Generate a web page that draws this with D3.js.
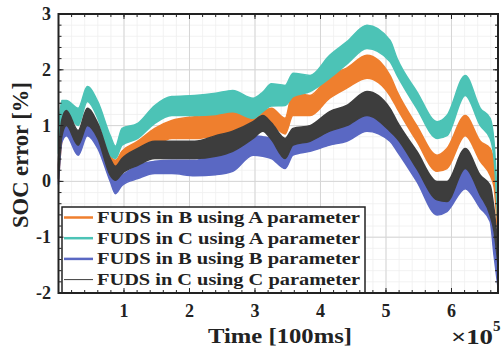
<!DOCTYPE html>
<meta charset="utf-8">
<style>
body { margin: 0; background: #fff; }
text { font-family: "Liberation Serif", "Times New Roman", serif; font-weight: bold; fill: #222; }
</style>
<svg width="503" height="348"></svg>
<script src="https://cdnjs.cloudflare.com/ajax/libs/d3/7.8.5/d3.min.js"></script>
<script>
// time axis, in units of 1e5 x 100ms
var time = [0, 0.05, 0.12, 0.30, 0.44, 0.60, 0.79, 0.87, 0.97, 1.21, 1.47, 1.73, 2.08, 2.40, 2.66, 2.97, 3.12, 3.25, 3.46, 3.58, 3.84, 4.14, 4.40, 4.71, 5.06, 5.17, 5.47, 5.78, 5.93, 6.21, 6.44, 6.59, 6.65, 6.71];

// upper / lower envelope of each oscillating SOC error trace [%]
var bAhi = [0.3, 1.0, 1.2, 0.85, 1.25, 1.0, 0.45, 0.38, 0.54, 0.72, 0.95, 1.09, 1.16, 1.2, 1.25, 1.13, 1.25, 1.31, 1.13, 1.61, 1.54, 1.9, 2.03, 2.26, 1.9, 1.61, 1.0, 0.47, 0.59, 1.18, 0.72, 0.59, 0.3, -0.8];
var bAlo = [0.0, 0.7, 0.9, 0.6, 0.95, 0.7, 0.15, 0.2, 0.29, 0.41, 0.63, 0.77, 0.77, 0.82, 0.9, 0.82, 0.95, 1.0, 0.85, 1.18, 1.18, 1.49, 1.67, 1.85, 1.54, 1.31, 0.72, 0.18, 0.23, 0.82, 0.36, 0.11, -0.1, -1.1];
var cAhi = [0.9, 1.45, 1.45, 1.31, 1.70, 1.43, 0.82, 0.63, 0.95, 1.04, 1.36, 1.52, 1.54, 1.58, 1.63, 1.49, 1.6, 1.75, 1.72, 1.94, 1.9, 2.26, 2.5, 2.8, 2.53, 2.2, 1.61, 1.07, 1.18, 1.9, 1.31, 1.13, 0.7, -0.55];
var cAlo = [0.5, 1.1, 1.22, 1.0, 1.43, 1.13, 0.47, 0.41, 0.65, 0.77, 1.04, 1.18, 1.18, 1.2, 1.25, 1.13, 1.25, 1.35, 1.36, 1.52, 1.61, 1.85, 2.1, 2.38, 2.15, 1.9, 1.31, 0.77, 0.82, 1.54, 1.0, 0.77, 0.4, -0.8];
var bBhi = [0.3, 1.0, 1.13, 0.77, 1.09, 0.82, 0.23, 0.05, 0.11, 0.29, 0.36, 0.38, 0.38, 0.48, 0.54, 0.82, 0.8, 0.77, 0.54, 0.82, 0.82, 1.0, 1.13, 1.31, 1.13, 0.82, 0.29, -0.25, -0.18, 0.23, -0.13, -0.25, -0.9, -1.6];
var bBlo = [-0.05, 0.7, 0.82, 0.47, 0.82, 0.59, 0.0, -0.22, -0.07, 0.05, 0.14, 0.14, 0.1, 0.12, 0.18, 0.47, 0.45, 0.41, 0.23, 0.47, 0.54, 0.65, 0.72, 0.9, 0.72, 0.54, 0.0, -0.6, -0.54, -0.13, -0.48, -0.72, -1.33, -1.9];
var cChi = [0.4, 1.1, 1.27, 0.91, 1.31, 1.04, 0.41, 0.27, 0.41, 0.59, 0.72, 0.72, 0.72, 0.82, 0.9, 1.07, 1.18, 1.05, 0.77, 0.95, 1.0, 1.25, 1.36, 1.61, 1.31, 1.07, 0.54, 0.0, 0.0, 0.59, 0.11, -0.07, -0.5, -1.2];
var cClo = [0.05, 0.8, 1.0, 0.65, 1.0, 0.77, 0.11, 0.02, 0.14, 0.29, 0.41, 0.41, 0.41, 0.45, 0.54, 0.77, 0.9, 0.75, 0.41, 0.65, 0.72, 0.9, 1.0, 1.18, 0.9, 0.77, 0.23, -0.33, -0.36, 0.23, -0.25, -0.61, -0.9, -1.5];

var names = ["FUDS in B using A parameter", "FUDS in C using A parameter", "FUDS in B using B parameter", "FUDS in C using C parameter"];
var colors = ["#ef7f2e", "#4cc3b6", "#5a68c3", "#3d3d3d"];
var his = [bAhi, cAhi, bBhi, cChi];
var los = [bAlo, cAlo, bBlo, cClo];

var xTicks = [1, 2, 3, 4, 5, 6];
var yTicks = [-2, -1, 0, 1, 2, 3];

var svg = d3.select("svg"),
    pL = 58.5, pR = 498, pT = 14, pB = 293;

var x = d3.scaleLinear().domain([0, 6.71]).range([pL, pR]);
var y = d3.scaleLinear().domain([-2, 3]).range([pB, pT]);

var xMinor = d3.range(1, 34).map(i => i * 0.2),
    yMinor = d3.range(1, 25).map(i => -2 + i * 0.2);

// minor + major grid
var g = svg.append("g");
g.selectAll(".gxm").data(xMinor).enter().append("line")
    .attr("x1", d => x(d)).attr("x2", d => x(d)).attr("y1", pT).attr("y2", pB)
    .attr("stroke", "#efefef").attr("stroke-width", 0.8);
g.selectAll(".gym").data(yMinor).enter().append("line")
    .attr("y1", d => y(d)).attr("y2", d => y(d)).attr("x1", pL).attr("x2", pR)
    .attr("stroke", "#efefef").attr("stroke-width", 0.8);
g.selectAll(".gx").data(xTicks).enter().append("line")
    .attr("x1", d => x(d)).attr("x2", d => x(d)).attr("y1", pT).attr("y2", pB)
    .attr("stroke", "#d6d6d6").attr("stroke-width", 1);
g.selectAll(".gy").data(yTicks).enter().append("line")
    .attr("y1", d => y(d)).attr("y2", d => y(d)).attr("x1", pL).attr("x2", pR)
    .attr("stroke", "#d6d6d6").attr("stroke-width", 1);

// the traces, drawn as filled bands between their envelopes
var plot = svg.append("g");
names.forEach(function(n, k) {
  var rows = time.map(function(t, i) { return {t: t, hi: his[k][i], lo: los[k][i]}; });
  var area = d3.area().curve(d3.curveMonotoneX)
      .x(d => x(d.t)).y0(d => y(d.lo)).y1(d => y(d.hi));
  plot.append("path").datum(rows)
      .attr("d", area)
      .attr("fill", colors[k])
      .attr("stroke", colors[k])
      .attr("stroke-width", 1.5)
      .attr("stroke-linejoin", "round");
});

// legend
var lg = svg.append("g");
lg.append("rect").attr("x", 62).attr("y", 207).attr("width", 303).attr("height", 86)
    .attr("fill", "#fff").attr("stroke", "#222").attr("stroke-width", 1.5);
names.forEach(function(n, k) {
  var ly = 217.5 + k * 20.7;
  lg.append("line").attr("x1", 64).attr("x2", 93).attr("y1", ly).attr("y2", ly)
      .attr("stroke", colors[k]).attr("stroke-width", k === 3 ? 1 : 2.5);
  lg.append("text").attr("x", 97).attr("y", ly + 5.5).attr("font-size", 16)
      .attr("textLength", 263).attr("lengthAdjust", "spacingAndGlyphs").text(n);
});

// frame with inward ticks on every side
var ax = svg.append("g");
function ticks(vals, len, vertical) {
  vals.forEach(function(v) {
    if (vertical) {
      ax.append("line").attr("x1", x(v)).attr("x2", x(v)).attr("y1", pB).attr("y2", pB - len);
      ax.append("line").attr("x1", x(v)).attr("x2", x(v)).attr("y1", pT).attr("y2", pT + len);
    } else {
      ax.append("line").attr("y1", y(v)).attr("y2", y(v)).attr("x1", pL).attr("x2", pL + len);
      ax.append("line").attr("y1", y(v)).attr("y2", y(v)).attr("x1", pR).attr("x2", pR - len);
    }
  });
}
ticks(xMinor, 3, true);
ticks(yMinor, 3, false);
ticks(xTicks, 5, true);
ticks(yTicks, 5, false);
ax.selectAll("line").attr("stroke", "#222").attr("stroke-width", 1);
ax.append("rect").attr("x", pL).attr("y", pT).attr("width", pR - pL).attr("height", pB - pT)
    .attr("fill", "none").attr("stroke", "#222").attr("stroke-width", 2);

// tick labels
svg.selectAll(".xl").data(xTicks).enter().append("text")
    .attr("x", d => x(d)).attr("y", 317).attr("text-anchor", "middle").attr("font-size", 18)
    .text(d => d);
svg.selectAll(".yl").data(yTicks).enter().append("text")
    .attr("x", 51).attr("y", d => y(d) + 6).attr("text-anchor", "end").attr("font-size", 18)
    .text(d => d);

// axis titles
svg.append("text").attr("x", 208).attr("y", 343)
    .attr("font-size", 22).attr("textLength", 144).attr("lengthAdjust", "spacingAndGlyphs")
    .text("Time [100ms]");
svg.append("text").attr("transform", "translate(28,228) rotate(-90)")
    .attr("font-size", 23).attr("textLength", 146).attr("lengthAdjust", "spacingAndGlyphs")
    .text("SOC error [%]");
var ex = svg.append("text").attr("x", 451).attr("y", 344).attr("font-size", 21);
ex.append("tspan").attr("textLength", 42).attr("lengthAdjust", "spacingAndGlyphs").text("\u00d710");
ex.append("tspan").attr("dy", -13).attr("font-size", 15).text("5");
</script>
